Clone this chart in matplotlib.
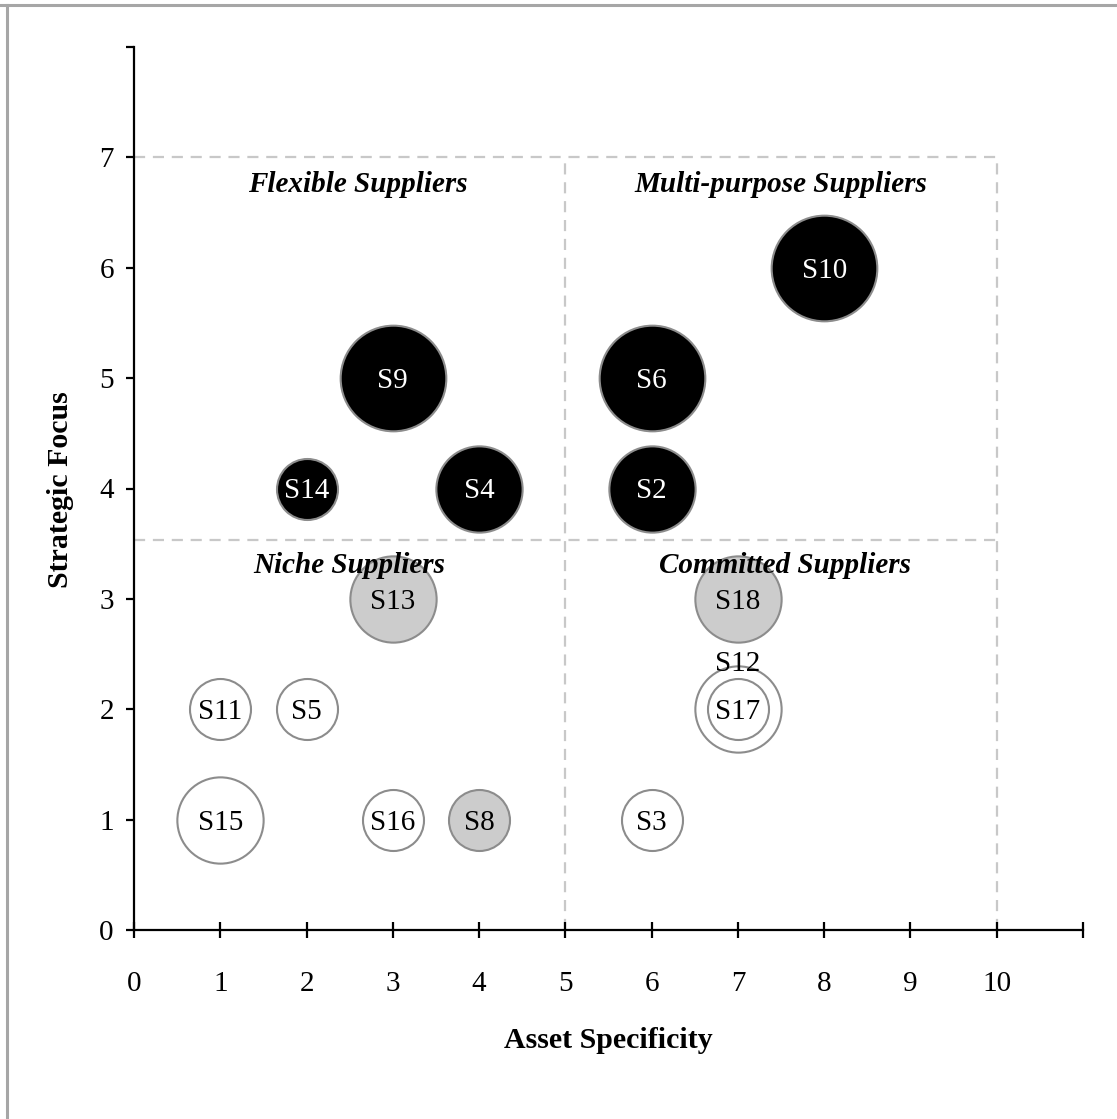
import matplotlib
matplotlib.use("Agg")
import matplotlib.pyplot as plt
from matplotlib.lines import Line2D

plt.rcParams['font.family'] = ['Liberation Serif', 'DejaVu Serif']

# Data
suppliers = ["S9", "S10", "S6", "S14", "S4", "S2", "S13", "S18", "S8",
             "S11", "S5", "S15", "S16", "S3", "S12", "S17"]
asset_specificity = [3, 8, 6, 2, 4, 6, 3, 7, 4, 1, 2, 1, 3, 6, 7, 7]
strategic_focus = [5, 6, 5, 4, 4, 4, 3, 3, 1, 2, 2, 1, 1, 1, 2, 2]
bubble_value = [3, 3, 3, 1, 2, 2, 2, 2, 1, 1, 1, 2, 1, 1, 2, 1]
group = ["black", "black", "black", "black", "black", "black", "gray", "gray", "gray",
         "white", "white", "white", "white", "white", "white", "white"]

quadrant_names = ["Flexible Suppliers", "Multi-purpose Suppliers",
                  "Niche Suppliers", "Committed Suppliers"]
quadrant_x = [2.6, 7.5, 2.5, 7.55]
quadrant_y = [6.75, 6.75, 3.3, 3.3]

x_ticks = list(range(0, 12))
y_ticks = list(range(0, 9))
x_tick_labels = [str(v) for v in range(0, 11)] + [""]
y_tick_labels = [str(v) for v in range(0, 8)] + [""]

fill_colors = {"black": "#000000", "gray": "#cccccc", "white": "#ffffff"}
text_colors = {"black": "#ffffff", "gray": "#000000", "white": "#000000"}

W, H = 1117, 1119
fig = plt.figure(figsize=(W / 100, H / 100), dpi=100)
ax = fig.add_axes([134 / W, 1 - 930 / H, (1083 - 134) / W, (930 - 47) / H])
ax.set_xlim(0, 11)
ax.set_ylim(0, 8)

# quadrant dashed lines
dash_kw = dict(color="#c8c8c8", lw=1.6, ls=(0, (5, 3.5)), zorder=1)
ax.plot([0, 10], [7, 7], **dash_kw)
ax.plot([0, 10], [3.53, 3.53], **dash_kw)
ax.plot([5, 5], [0, 7], **dash_kw)
ax.plot([10, 10], [0, 7], **dash_kw)

# bubbles (larger first so smaller overlay)
unit_s = (61 * 0.72) ** 2
order = sorted(range(len(suppliers)), key=lambda i: -bubble_value[i])
for i in order:
    ax.scatter(asset_specificity[i], strategic_focus[i], s=bubble_value[i] * unit_s,
               facecolor=fill_colors[group[i]], edgecolor="#8c8c8c", linewidth=1.5,
               zorder=3)

for i, name in enumerate(suppliers):
    x, y = asset_specificity[i], strategic_focus[i]
    if name == "S12":
        ax.text(x, y + 0.44, name, ha="center", va="center_baseline", fontsize=21,
                color="#000000", zorder=5)
    else:
        ax.text(x, y, name, ha="center", va="center_baseline", fontsize=21,
                color=text_colors[group[i]], zorder=5)

for name, qx, qy in zip(quadrant_names, quadrant_x, quadrant_y):
    ax.text(qx, qy, name, ha="center", va="center", fontsize=21,
            fontweight="bold", fontstyle="italic", zorder=6)

# axes styling
for side in ["top", "right"]:
    ax.spines[side].set_visible(False)
for side in ["left", "bottom"]:
    ax.spines[side].set_linewidth(1.6)
    ax.spines[side].set_color("black")

ax.set_xticks(x_ticks)
ax.set_xticklabels(x_tick_labels)
ax.set_yticks(y_ticks)
ax.set_yticklabels(y_tick_labels)
ax.tick_params(axis="x", direction="inout", length=11, width=1.6, pad=24,
               labelsize=21)
ax.tick_params(axis="y", direction="out", length=5.5, width=1.6, pad=9,
               labelsize=21)

fig.text(608 / W, 1 - 1040 / H, "Asset Specificity", ha="center", va="center",
         fontsize=21.5, fontweight="bold")
fig.text(60 / W, 1 - 490 / H, "Strategic Focus", ha="center", va="center",
         fontsize=21.5, fontweight="bold", rotation=90)

# outer frame
fig.add_artist(Line2D([0, 1], [1 - 5 / H, 1 - 5 / H], transform=fig.transFigure,
                      color="#a6a6a6", lw=2.2))
fig.add_artist(Line2D([7 / W, 7 / W], [0, 1 - 5 / H], transform=fig.transFigure,
                      color="#a6a6a6", lw=2.2))

fig.savefig("out.png", dpi=100, facecolor="white")
